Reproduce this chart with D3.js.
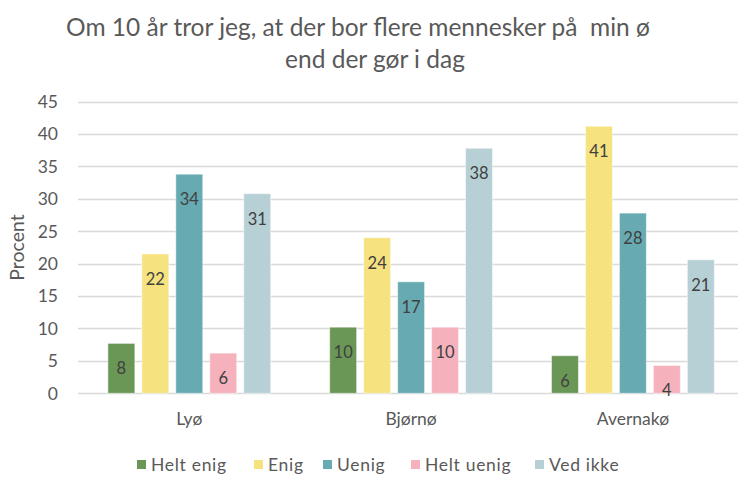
<!DOCTYPE html>
<html><head><meta charset="utf-8">
<script src="https://cdn.jsdelivr.net/npm/d3@7"></script>
<style>body{margin:0;background:#fff}svg{display:block}</style>
</head><body>
<script>
const categories = ["Lyø", "Bjørnø", "Avernakø"];
const seriesNames = ["Helt enig", "Enig", "Uenig", "Helt uenig", "Ved ikke"];
const heltEnig  = [7.7, 10.2, 5.8];
const enig      = [21.5, 24.0, 41.2];
const uenig     = [33.8, 17.2, 27.8];
const heltUenig = [6.2, 10.2, 4.3];
const vedIkke   = [30.8, 37.8, 20.6];
const labels = [["8","10","6"],["22","24","41"],["34","17","28"],["6","10","4"],["31","38","21"]];
const yTicks = [0,5,10,15,20,25,30,35,40,45];
const colors = ["#6a9756", "#f6e27e", "#67aab2", "#f5b2bd", "#b6d0d6"];
const titleLines = ["Om 10 år tror jeg, at der bor flere mennesker på  min ø", "end der gør i dag"];

const series = [heltEnig, enig, uenig, heltUenig, vedIkke];
const W = 738, H = 478;
const font = "Lato, 'Open Sans', sans-serif";
const svg = d3.select("body").append("svg").attr("width", W).attr("height", H)
  .style("font-family", font);

const y = d3.scaleLinear().domain([0,45]).range([393.3, 101.6]);
const x0 = d3.scaleBand().domain(categories).range([78.4, 743.8]);
const x1 = d3.scaleBand().domain(d3.range(5)).range([0, x0.bandwidth()])
  .paddingInner(0.206).paddingOuter(0.868);

// gridlines
svg.append("g").selectAll("line").data(yTicks).join("line")
  .attr("x1", 78).attr("x2", W)
  .attr("y1", d => Math.round(y(d)) + 0.5).attr("y2", d => Math.round(y(d)) + 0.5)
  .attr("stroke", "#d9d9d9").attr("stroke-width", 1.3);

// y tick labels
svg.append("g").selectAll("text").data(yTicks).join("text")
  .attr("x", 58).attr("y", d => y(d)).attr("dy", "0.36em")
  .attr("text-anchor", "end").attr("fill", "#595959").attr("font-size", 17.5)
  .text(d => d);

// y title
svg.append("text").attr("transform", `translate(24,${(y(0)+y(45))/2}) rotate(-90)`)
  .attr("text-anchor", "middle").attr("fill", "#595959").attr("font-size", 19.5)
  .text("Procent");

// bars
series.forEach((vals, si) => {
  const g = svg.append("g");
  g.selectAll("rect").data(categories).join("rect")
    .attr("x", c => x0(c) + x1(si)).attr("width", x1.bandwidth())
    .attr("y", (c, i) => y(vals[i])).attr("height", (c, i) => y(0) - y(vals[i]))
    .attr("fill", colors[si]).attr("stroke", "#ffffff").attr("stroke-opacity", 0.5).attr("stroke-width", 1);
  g.selectAll("text").data(categories).join("text")
    .attr("x", c => x0(c) + x1(si) + x1.bandwidth()/2)
    .attr("y", (c, i) => y(vals[i]) + 31)
    .attr("text-anchor", "middle").attr("fill", "#404040").attr("font-size", 16.5)
    .text((c, i) => labels[si][i]);
});

// x labels
svg.append("g").selectAll("text").data(categories).join("text")
  .attr("x", c => x0(c) + x0.bandwidth()/2).attr("y", 425)
  .attr("text-anchor", "middle").attr("fill", "#595959").attr("font-size", 17.5)
  .text(c => c);

// title
svg.append("g").selectAll("text").data(titleLines).join("text")
  .attr("x", (d, i) => i === 0 ? 358 : 375).attr("y", (d, i) => 36 + i * 32)
  .attr("text-anchor", "middle").attr("fill", "#595959").attr("font-size", 24.5)
  .style("white-space", "pre").attr("xml:space", "preserve")
  .text(d => d);

// legend
const legX = [137, 254, 323, 411, 535];
const lg = svg.append("g");
seriesNames.forEach((n, i) => {
  lg.append("rect").attr("x", legX[i]).attr("y", 460).attr("width", 9).attr("height", 9).attr("fill", colors[i]);
  lg.append("text").attr("x", legX[i] + 14).attr("y", 465).attr("dy", "0.36em")
    .attr("fill", "#595959").attr("font-size", 17.5).attr("letter-spacing", 0.7).text(n);
});
</script>
</body></html>
